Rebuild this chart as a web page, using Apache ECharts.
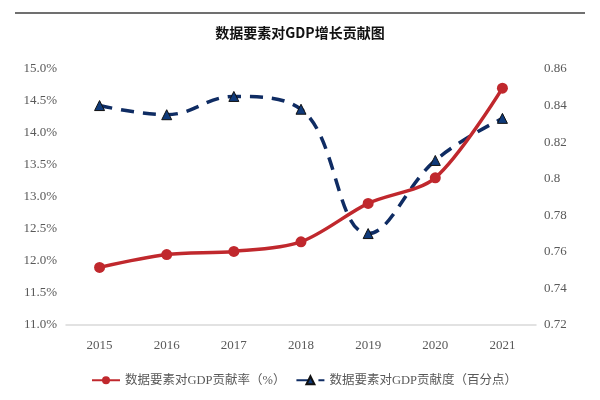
<!DOCTYPE html>
<html><head><meta charset="utf-8">
<script src="https://cdn.jsdelivr.net/npm/echarts@6/dist/echarts.min.js"></script>
<style>html,body{margin:0;padding:0;background:#fff}#c{width:600px;height:400px}</style>
</head><body><div id="c"></div>
<script>
const categories = ['2015','2016','2017','2018','2019','2020','2021'];
const rateValues = [11.9, 12.1, 12.15, 12.3, 12.9, 13.3, 14.7];
const degreeValues = [0.840, 0.835, 0.845, 0.838, 0.770, 0.810, 0.833];
const seriesNames = ['数据要素对GDP贡献率（%）', '数据要素对GDP贡献度（百分点）'];
const titleText = '数据要素对GDP增长贡献图';

const font = '"Liberation Serif", "Noto Sans CJK SC", serif';
const chart = echarts.init(document.getElementById('c'));
chart.setOption({
  animation: false,
  graphic: [{
    type: 'line', shape: {x1: 15, y1: 13, x2: 585, y2: 13},
    style: {stroke: '#404040', lineWidth: 1.5}
  }],
  title: {
    text: titleText, left: 'center', top: 21,
    textStyle: {fontFamily: '"Noto Sans CJK SC", sans-serif', fontWeight: 'bold', fontSize: 14, color: '#111'}
  },
  legend: {
    left: 86, top: 369, itemGap: 10, itemWidth: 28, itemHeight: 10,
    textStyle: {fontFamily: font, fontSize: 12.5, color: '#595959'},
    data: [seriesNames[0], seriesNames[1]]
  },
  grid: {left: 66, right: 64, top: 69, bottom: 75},
  xAxis: {
    type: 'category', data: categories, boundaryGap: true,
    axisLine: {lineStyle: {color: '#d9d9d9', width: 1.5}},
    axisTick: {show: false},
    axisLabel: {fontFamily: font, fontSize: 13, color: '#595959', margin: 14}
  },
  yAxis: [{
    type: 'value', min: 11, max: 15, interval: 0.5,
    axisLine: {show: false}, axisTick: {show: false}, splitLine: {show: false},
    axisLabel: {fontFamily: font, fontSize: 13, color: '#595959', margin: 9,
      formatter: v => v.toFixed(1) + '%'}
  }, {
    type: 'value', min: 0.72, max: 0.86, interval: 0.02,
    axisLine: {show: false}, axisTick: {show: false}, splitLine: {show: false},
    axisLabel: {fontFamily: font, fontSize: 13, color: '#595959', margin: 8,
      formatter: v => String(+v.toFixed(2))}
  }],
  series: [{
    name: seriesNames[0], type: 'line', yAxisIndex: 0, data: rateValues,
    smooth: 0.3, symbol: 'circle', symbolSize: 11,
    lineStyle: {color: '#c0282d', width: 3.5},
    itemStyle: {color: '#c0282d'}, z: 3
  }, {
    name: seriesNames[1], type: 'line', yAxisIndex: 1, data: degreeValues,
    smooth: 0.4, symbol: 'triangle', symbolSize: 10,
    lineStyle: {color: '#0f2c63', width: 3.5, type: [13, 9]},
    itemStyle: {color: '#0f3a7a', borderColor: '#111', borderWidth: 1}, z: 2
  }]
});
</script></body></html>
